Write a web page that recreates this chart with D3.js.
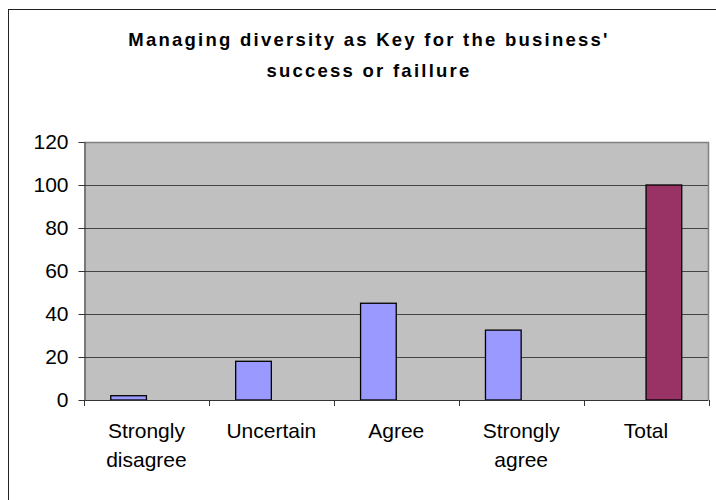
<!DOCTYPE html>
<html>
<head>
<meta charset="utf-8">
<script src="https://cdn.jsdelivr.net/npm/d3@7"></script>
<style>
  html, body { margin: 0; padding: 0; background: #fff; }
  svg { display: block; }
  text { font-family: "Liberation Sans", Arial, sans-serif; fill: #000; }
</style>
</head>
<body>
<svg id="chart" width="716" height="500"></svg>
<script>
// Survey answers, percent of respondents
const categories = ["Strongly disagree", "Uncertain", "Agree", "Strongly agree", "Total"];
const categoryLines = [["Strongly", "disagree"], ["Uncertain"], ["Agree"], ["Strongly", "agree"], ["Total"]];
const seriesNames = ["Answers", "Total"];
const answerValues = [2, 18, 45, 32.5, null];
const totalValues = [null, null, null, null, 100];
const yTicks = [0, 20, 40, 60, 80, 100, 120];
const titleLines = ["Managing diversity as Key for the business'", "success or faillure"];

const seriesValues = { "Answers": answerValues, "Total": totalValues };
const seriesColors = { "Answers": "#9999FF", "Total": "#993366" };

const svg = d3.select("#chart");

// chart frame
svg.append("rect")
  .attr("x", 8.5).attr("y", 9.5)
  .attr("width", 730).attr("height", 510)
  .attr("fill", "#fff")
  .attr("stroke", "#222").attr("stroke-width", 1);

// title
const title = svg.append("text")
  .attr("text-anchor", "middle")
  .attr("font-size", 18.5)
  .attr("font-weight", "bold")
  .attr("letter-spacing", 2.25);
titleLines.forEach((t, i) => {
  title.append("tspan").attr("x", 369).attr("y", 46 + i * 31).text(t);
});

const plot = { left: 84, right: 708.5, top: 142, bottom: 400 };

const x0 = d3.scaleBand().domain(categories).range([plot.left, plot.right]).padding(0);
const x1 = d3.scaleBand().domain(seriesNames).range([0, x0.bandwidth()])
  .paddingInner(0).paddingOuter(0.75);
const y = d3.scaleLinear().domain([0, 120]).range([plot.bottom, plot.top]);

// plot background
svg.append("rect")
  .attr("x", plot.left).attr("y", plot.top)
  .attr("width", plot.right - plot.left).attr("height", plot.bottom - plot.top)
  .attr("fill", "#C0C0C0");

// horizontal gridlines
svg.append("g").selectAll("line")
  .data(yTicks.filter(d => d > 0 && d < 120))
  .join("line")
  .attr("x1", plot.left).attr("x2", plot.right)
  .attr("y1", d => Math.round(y(d)) + 0.5).attr("y2", d => Math.round(y(d)) + 0.5)
  .attr("stroke", "#444").attr("stroke-width", 1);

// plot border (top and right)
svg.append("path")
  .attr("d", `M${plot.left},${plot.top + 0.5}H${plot.right}V${plot.bottom}`)
  .attr("fill", "none").attr("stroke", "#808080").attr("stroke-width", 1.5);

// bars
const rows = categories.map((c, i) => ({ cat: c, i }));
const groups = svg.append("g").selectAll("g")
  .data(rows).join("g")
  .attr("transform", d => `translate(${x0(d.cat)},0)`);

groups.selectAll("rect")
  .data(d => seriesNames.map(s => ({ s, v: seriesValues[s][d.i] })).filter(e => e.v != null))
  .join("rect")
  .attr("x", d => x1(d.s))
  .attr("y", d => y(d.v))
  .attr("width", x1.bandwidth())
  .attr("height", d => y(0) - y(d.v))
  .attr("fill", d => seriesColors[d.s])
  .attr("stroke", "#000").attr("stroke-width", 1.3);

// y axis
const yAxis = svg.append("g")
  .attr("transform", `translate(${plot.left + 0.5},0)`)
  .call(d3.axisLeft(y).tickValues(yTicks).tickSize(6).tickPadding(10).tickSizeOuter(0));
yAxis.select(".domain").attr("stroke", "#333");
yAxis.selectAll(".tick line").attr("stroke", "#333");
yAxis.selectAll(".tick text")
  .attr("font-size", 21)
  .attr("font-family", "\"Liberation Sans\", Arial, sans-serif")
  .attr("fill", "#000");

// x axis line and category boundary ticks
const boundaries = categories.map(c => x0(c)).concat([x0(categories[categories.length - 1]) + x0.bandwidth()]);
const xAxis = svg.append("g");
xAxis.append("line")
  .attr("x1", plot.left).attr("x2", plot.right)
  .attr("y1", plot.bottom + 0.5).attr("y2", plot.bottom + 0.5)
  .attr("stroke", "#333");
xAxis.selectAll("line.tk")
  .data(boundaries).join("line").attr("class", "tk")
  .attr("x1", d => Math.round(d) + 0.5).attr("x2", d => Math.round(d) + 0.5)
  .attr("y1", plot.bottom).attr("y2", plot.bottom + 6)
  .attr("stroke", "#333");

// category labels
const labels = xAxis.selectAll("text.cat")
  .data(rows).join("text").attr("class", "cat")
  .attr("text-anchor", "middle")
  .attr("font-size", 21);
labels.each(function (d) {
  const t = d3.select(this);
  categoryLines[d.i].forEach((line, k) => {
    t.append("tspan")
      .attr("x", x0(d.cat) + x0.bandwidth() / 2)
      .attr("y", plot.bottom + 37.5 + k * 29.5)
      .text(line);
  });
});
</script>
</body>
</html>
